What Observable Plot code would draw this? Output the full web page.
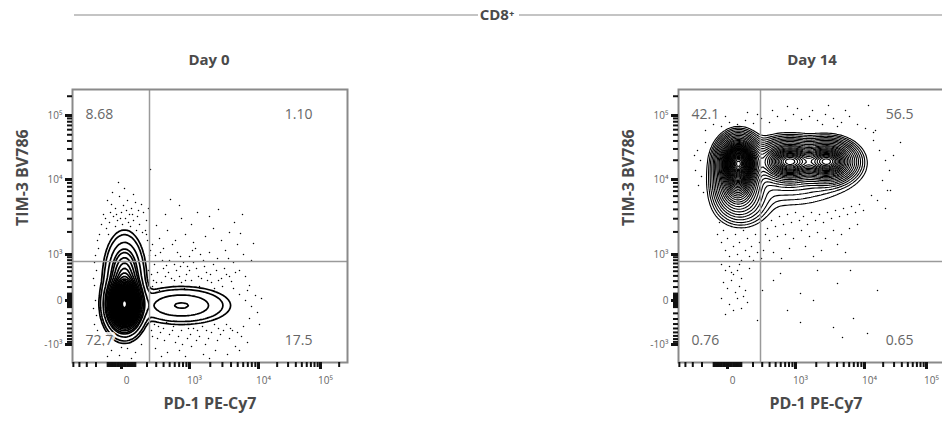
<!DOCTYPE html>
<html><head><meta charset="utf-8">
<script src="https://cdn.jsdelivr.net/npm/d3@7"></script>
<script src="https://cdn.jsdelivr.net/npm/@observablehq/plot@0.6"></script>
<style>
body{margin:0;background:#fff;font-family:"Open Sans",sans-serif;}
#wrap{position:relative;width:942px;height:426px;overflow:hidden;background:#fff;}
.abs{position:absolute;}
.pl{width:357px;height:346px;}
.pl svg{max-width:none !important;width:357px;height:346px;display:block;}
.day{font-weight:700;font-size:15px;color:#4a4a4a;text-align:center;width:120px;top:49px;}
</style></head><body>
<div id="wrap">
  <div class="abs" style="left:74px;top:14px;width:404px;height:2px;background:#c4c4c4"></div>
  <div class="abs" style="left:470px;top:4px;width:54px;text-align:center;font-weight:700;font-size:15px;color:#4a4a4a;line-height:20px">CD8⁺</div>
  <div class="abs" style="left:519px;top:14px;width:423px;height:2px;background:#c4c4c4"></div>
  <div class="abs day" style="left:149px">Day 0</div>
  <div class="abs day" style="left:752px">Day 14</div>
  <div class="abs pl" id="p0" style="left:0;top:80px"></div>
  <div class="abs pl" id="p14" style="left:606px;top:80px"></div>
</div>
<script>
// ---------- data (display channel units: 0 fluorescence = 0) ----------
const panelTitles = ["Day 0", "Day 14"];
const xLabel = "PD-1 PE-Cy7";
const yLabel = "TIM-3 BV786";
const xTickValues = [0, 1e3, 1e4, 1e5];
const xTickLabels = ["0", "10³", "10⁴", "10⁵"];
const yTickValues = [-1e3, 0, 1e3, 1e4, 1e5];
const yTickLabels = ["-10³", "0", "10³", "10⁴", "10⁵"];
const day0Pct = ["8.68", "1.10", "72.7", "17.5"];   // UL, UR, LL, LR
const day14Pct = ["42.1", "56.5", "0.76", "0.65"];
const gateX = [28, 33];    // PD-1 gate, Day 0 / Day 14
const gateY = [39, 39];    // TIM-3 gate
// populations: [centerX, centerY, spreadX, spreadY, peak density]
const day0Pops = [[3, -4, 7.5, 11.5, 25], [3, 24, 8, 17, 3.5], [60, -5, 22, 8.5, 1]];
const day0Levels = [0.083, 0.17, 0.47, 0.95, 1.3, 1.9, 2.6, 3.3, 4, 4.8, 5.6, 6.4, 7.2, 8, 8.8, 9.6, 10.4, 11.2, 12, 12.8, 13.6, 14.4, 15.2, 16, 16.8, 17.6, 18.4, 19.2, 20, 20.8, 21.6, 22.4, 23.2, 24, 24.6];
const day14Pops = [[11, 138, 9, 11, 10], [10, 116, 10, 12, 3], [62, 139, 14, 9, 5], [100, 139, 12.5, 9, 5], [14, 97, 14, 12, 0.35], [60, 128, 36, 18, 0.25]];
const day14Levels = [0.05, 0.08, 0.12, 0.18, 0.26, 0.36, 0.5, 0.68, 0.9, 1.15, 1.4, 1.7, 2, 2.3, 2.6, 2.9, 3.2, 3.5, 3.8, 4.1, 4.4, 4.7, 5, 5.3, 5.6, 6, 6.4, 6.8, 7.2, 7.6, 8, 8.4, 8.8, 9.2, 9.6, 10, 10.4];
const day0Dots = [
[-12,78],[-8,84],[-4,80],[0,88],[4,82],[8,86],[12,80],[16,84],[-15,72],[-6,92],[2,95],[10,92],[18,76],[22,88],[-10,96],[6,100],[-2,104],[14,98],[-18,86],[20,96],[-3,118],[3,112],[-14,100],[25,80],[-20,76],[9,74],[-6,74],[15,70],[-22,66],[24,70],[1,76],[-9,108],[27,92],[12,106],
[-24,60],[-26,45],[-25,30],[-27,15],[-26,0],[-25,-15],[-24,-30],[26,60],[28,45],[27,30],[29,50],[25,66],[-23,52],
[32,20],[36,28],[40,18],[45,35],[50,22],[55,30],[60,18],[65,26],[70,20],[75,32],[80,22],[85,28],[90,18],[95,30],[100,22],[105,26],[110,19],[34,45],[42,52],[48,40],[56,48],[62,38],[68,44],[74,52],[82,40],[88,48],[96,42],[104,50],[112,38],[118,30],[124,24],[38,62],[46,70],[54,60],[64,66],[72,58],[84,64],[92,72],[100,60],[108,68],[116,56],[122,46],[132,57],[119,67],[97,91],[121,86],[49,101],[29,131],[60,82],[76,88],[88,84],[44,86],[35,75],[130,40],[128,15],[113,78],[70,76],[58,95],
[112,12],[118,6],[124,0],[130,-6],[136,-12],[134,5],[128,-18],[122,-26],[116,-32],[138,-24],[140,2],[126,10],
[30,-30],[36,-38],[42,-28],[48,-34],[54,-42],[60,-30],[66,-38],[72,-28],[78,-36],[84,-44],[90,-32],[96,-40],[102,-30],[108,-38],[114,-46],[120,-36],[34,-48],[46,-52],[58,-50],[70,-46],[82,-54],[94,-50],[106,-54],[118,-50],[40,-56],[64,-56],[88,-58],[126,-42],[76,-30],[52,-26],
[-18,-45],[-10,-50],[-2,-55],[6,-48],[14,-52],[20,-44],[-22,-40],[0,-47],[10,-58],[-14,-56],
[31,14],[38,10],[44,24],[52,14],[58,24],[63,12],[68,30],[78,14],[86,20],[93,12],[101,14],[33,36],[41,40],[53,36],[66,34],[79,46],[92,36],[107,42],
[33,-24],[39,-32],[45,-22],[57,-36],[63,-24],[69,-34],[81,-26],[87,-38],[93,-24],[99,-34],[105,-24],[111,-30],
[-16,82],[-11,88],[-5,86],[5,90],[11,86],[17,90],[-1,82],[7,78],[-13,66],[21,68],[-27,38],[-28,22],[-28,-8],[-27,-24],[-21,-36],
[30,26],[35,18],[42,32],[47,28],[53,20],[59,34],[64,20],[72,38],[77,24],[83,34],[89,26],[97,20],[103,32],[108,24],[114,28],[31,56],[39,48],[51,56],[59,44],[71,50],
[31,-36],[37,-26],[43,-40],[51,-30],[61,-44],[67,-28],[75,-40],[85,-30],[97,-28],[109,-28]
];
const day14Dots = [
[-22,170],[-14,176],[-6,174],[2,178],[10,176],[18,180],[26,177],[34,182],[42,178],[50,184],[58,180],[66,186],[74,181],[82,184],[90,180],[98,186],[106,182],[114,178],[122,184],[130,176],[138,172],[146,168],[60,194],[101,195],[141,195],[20,188],[45,190],[85,190],[118,190],[-2,184],[30,186],[70,192],[95,176],[110,174],
[-30,150],[-27,140],[-32,130],[-26,124],[-29,115],[-24,108],[-33,145],[-22,158],
[146,160],[152,150],[158,140],[162,130],[155,120],[160,110],[150,100],[158,92],[173,158],[163,110],[148,170],[166,145],[144,105],
[-8,78],[-4,70],[0,62],[4,74],[8,66],[12,58],[16,70],[20,62],[24,54],[28,66],[32,58],[36,50],[-6,58],[-2,50],[2,44],[6,54],[10,46],[14,40],[18,50],[22,44],[26,40],[30,48],[34,42],[38,66],[-10,66],[40,72],[44,80],[48,74],[52,84],[56,76],[60,86],[64,78],[68,88],[72,80],[76,84],[80,76],[84,88],[88,80],[92,86],[96,78],[100,88],[104,82],[108,90],[112,84],[116,92],[120,86],[124,94],[128,88],[132,96],[136,90],[42,60],[50,64],[58,66],[66,62],[74,70],[82,64],[90,68],[98,62],[106,70],[114,66],[122,72],[130,76],[46,48],[62,52],[78,54],[94,50],[110,56],[54,42],[86,44],[118,48],
[-6,36],[-2,30],[2,34],[6,26],[10,30],[14,22],[-4,18],[0,12],[4,20],[8,8],[12,14],[16,4],[-6,2],[2,-4],[6,-10],[10,2],[14,-8],[18,10],[20,-2],[-2,-14],[4,28],[12,36],[22,32],
[73,7],[86,0],[110,17],[123,30],[150,10],[30,-20],[73,-22],[106,-27],[126,-18],[115,-37],[140,-33],[46,20],[60,-10],[53,27],[90,30],[35,10]
];

// ---------- logicle-like display transform (fluorescence -> channel) ----------
function makeT(c, tNeg3, t3, t4, t5) {
  const a = Math.asinh(1e3 / c);
  return v => {
    const u = Math.abs(v), s = Math.sign(v);
    if (u <= 1e3) return s * (s < 0 ? tNeg3 : t3) * Math.asinh(u / c) / a;
    const l = Math.log10(u);
    if (u <= 1e4) return s * (t3 + (l - 3) * (t4 - t3));
    return s * (t4 + (l - 4) * (t5 - t4));
  };
}
const Tx = makeT(209, 68, 68, 137, 199);
const Ty = makeT(400, 44, 46, 121, 185);
const xDomain = [-49, 226], yDomain = [-62, 211];

function minorTicks(T, dom) {
  const out = [];
  for (const k of [1, 2, 3, 4, 5]) for (let m = 1; m <= 9; m++) {
    for (const s of [1, -1]) {
      const v = s * m * 10 ** k;
      if (s < 0 && Math.abs(v) > 1e3) continue;
      const p = T(v);
      if (p >= dom[0] && p <= dom[1]) out.push(p);
    }
  }
  return out;
}

function panel(pops, levels, dots, gx, gy, pct, rightDx, cw) {
  const dens = (x, y) => {
    let s = 0;
    for (const [cx, cy, sx, sy, pk] of pops) s += pk * Math.exp(-((x - cx) ** 2) / (2 * sx * sx) - ((y - cy) ** 2) / (2 * sy * sy));
    return s;
  };
  const xMaj = xTickValues.map(Tx), yMaj = yTickValues.map(Ty);
  const xLab = new Map(xMaj.map((p, i) => [p, xTickLabels[i]]));
  const yLab = new Map(yMaj.map((p, i) => [p, yTickLabels[i]]));
  const yMajIn = yMaj.filter(p => p >= yDomain[0] && p <= yDomain[1]);
  const xMajIn = xMaj.filter(p => p >= xDomain[0] && p <= xDomain[1]);
  const pctStyle = {fontSize: 14, fill: "#666", stroke: "white", strokeWidth: 6, strokeOpacity: 0.85, lineAnchor: "middle"};
  return Plot.plot({
    width: 357, height: 346, marginLeft: 72, marginRight: 10, marginTop: 9, marginBottom: 64,
    style: {fontFamily: "'Open Sans', sans-serif", background: "transparent", overflow: "visible"},
    x: {domain: xDomain}, y: {domain: yDomain},
    marks: [
      Plot.dot(dots, {x: d => d[0], y: d => d[1], r: 0.75, fill: "#000", stroke: null}),
      Plot.contour({x1: xDomain[0], x2: xDomain[1], y1: yDomain[0], y2: yDomain[1], value: dens, thresholds: levels, stroke: "#000", strokeWidth: cw, fill: "none"}),
      Plot.ruleX([gx], {stroke: "#9a9a9a", strokeWidth: 1.5}),
      Plot.ruleY([gy], {stroke: "#9a9a9a", strokeWidth: 1.5}),
      Plot.text([pct[0]], {frameAnchor: "top-left", dx: 13, dy: 25, textAnchor: "start", ...pctStyle}),
      Plot.text([pct[1]], {frameAnchor: "top-right", dx: rightDx, dy: 25, textAnchor: "end", ...pctStyle}),
      Plot.text([pct[2]], {frameAnchor: "bottom-left", dx: 13, dy: -22, textAnchor: "start", ...pctStyle}),
      Plot.text([pct[3]], {frameAnchor: "bottom-right", dx: rightDx, dy: -22, textAnchor: "end", ...pctStyle}),
      Plot.frame({stroke: "#8a8a8a", strokeWidth: 2}),
      Plot.axisY({ticks: minorTicks(Ty, yDomain), tickSize: 5, strokeWidth: 2, stroke: "#111", tickFormat: () => ""}),
      Plot.axisY({ticks: yMajIn, tickSize: 7, strokeWidth: 3, stroke: "#111", tickFormat: () => ""}),
      Plot.axisY({ticks: yMajIn, tickSize: 0, tickPadding: 10, fontSize: 10, fill: "#666", tickFormat: d => yLab.get(d)}),
      Plot.axisX({ticks: minorTicks(Tx, xDomain), tickSize: 5, strokeWidth: 2, stroke: "#111", tickFormat: () => ""}),
      Plot.axisX({ticks: xMajIn, tickSize: 7, strokeWidth: 3, stroke: "#111", tickFormat: () => ""}),
      Plot.axisX({ticks: xMajIn, tickSize: 0, tickPadding: 14, fontSize: 10, fill: "#666", dx: 5, tickFormat: d => xLab.get(d)}),
      Plot.text([xLabel], {frameAnchor: "bottom", dy: 46, fontWeight: "bold", fontSize: 16, fill: "#4a4a4a"}),
      Plot.text([yLabel], {frameAnchor: "left", dx: -50, rotate: -90, fontWeight: "bold", fontSize: 16, fill: "#4a4a4a"})
    ]
  });
}

document.getElementById("p0").append(panel(day0Pops, day0Levels, day0Dots, gateX[0], gateY[0], day0Pct, -35, 1.7));
document.getElementById("p14").append(panel(day14Pops, day14Levels, day14Dots, gateX[1], gateY[1], day14Pct, -40, 1.1));
</script>
</body></html>
